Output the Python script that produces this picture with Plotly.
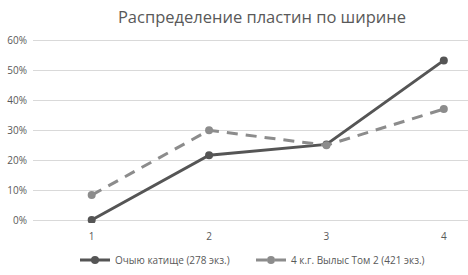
import plotly.graph_objects as go

categories = [1, 2, 3, 4]
tick_labels = ["1", "2", "3", "4"]
series1_name = "Очыю катище (278 экз.)"
series1 = [0.0, 0.216, 0.252, 0.532]
series2_name = "4 к.г. Вылыс Том 2 (421 экз.)"
series2 = [0.083, 0.299, 0.249, 0.370]
y_ticks = [0, 0.1, 0.2, 0.3, 0.4, 0.5, 0.6]

fig = go.Figure()
fig.add_trace(go.Scatter(x=categories, y=series1, name=series1_name, mode="lines+markers",
                         line=dict(color="#555555", width=3),
                         marker=dict(size=8, color="#555555")))
fig.add_trace(go.Scatter(x=categories, y=series2, name=series2_name, mode="lines+markers",
                         line=dict(color="#8c8c8c", width=3, dash="11px,8px"),
                         marker=dict(size=8, color="#8c8c8c")))

fig.update_layout(
    width=468, height=275,
    margin=dict(l=33, r=0, t=37, b=52),
    paper_bgcolor="white", plot_bgcolor="white",
    font=dict(family="Open Sans", color="#595959", size=10),
    title=dict(text="Распределение пластин по ширине", x=262/468, xanchor="center",
               y=0.938, yanchor="middle", xref="container", yref="container",
               font=dict(size=16.5, color="#595959")),
    xaxis=dict(range=[0.5, 4.206], tickvals=categories, ticktext=tick_labels,
               showgrid=False, zeroline=False, showline=False, ticks="",
               automargin=False, ticklabelstandoff=6,
               tickfont=dict(size=10, color="#595959")),
    yaxis=dict(range=[-0.01, 0.61], tickvals=y_ticks, tickformat=".0%",
               showgrid=True, gridcolor="#d9d9d9", gridwidth=1, zeroline=False,
               showline=False, ticks="", automargin=False, ticklabelstandoff=5,
               tickfont=dict(size=10, color="#595959")),
    legend=dict(orientation="h", x=(75 - 33) / 435, xanchor="left",
                y=1 - 260 / 275, yanchor="middle", yref="container",
                font=dict(size=10, color="#595959"), itemwidth=30,
                entrywidth=131, entrywidthmode="pixels"),
    showlegend=True,
)
fig.write_html("out.html", post_script="document.body.style.margin='0';",
               config={"displayModeBar": False})
